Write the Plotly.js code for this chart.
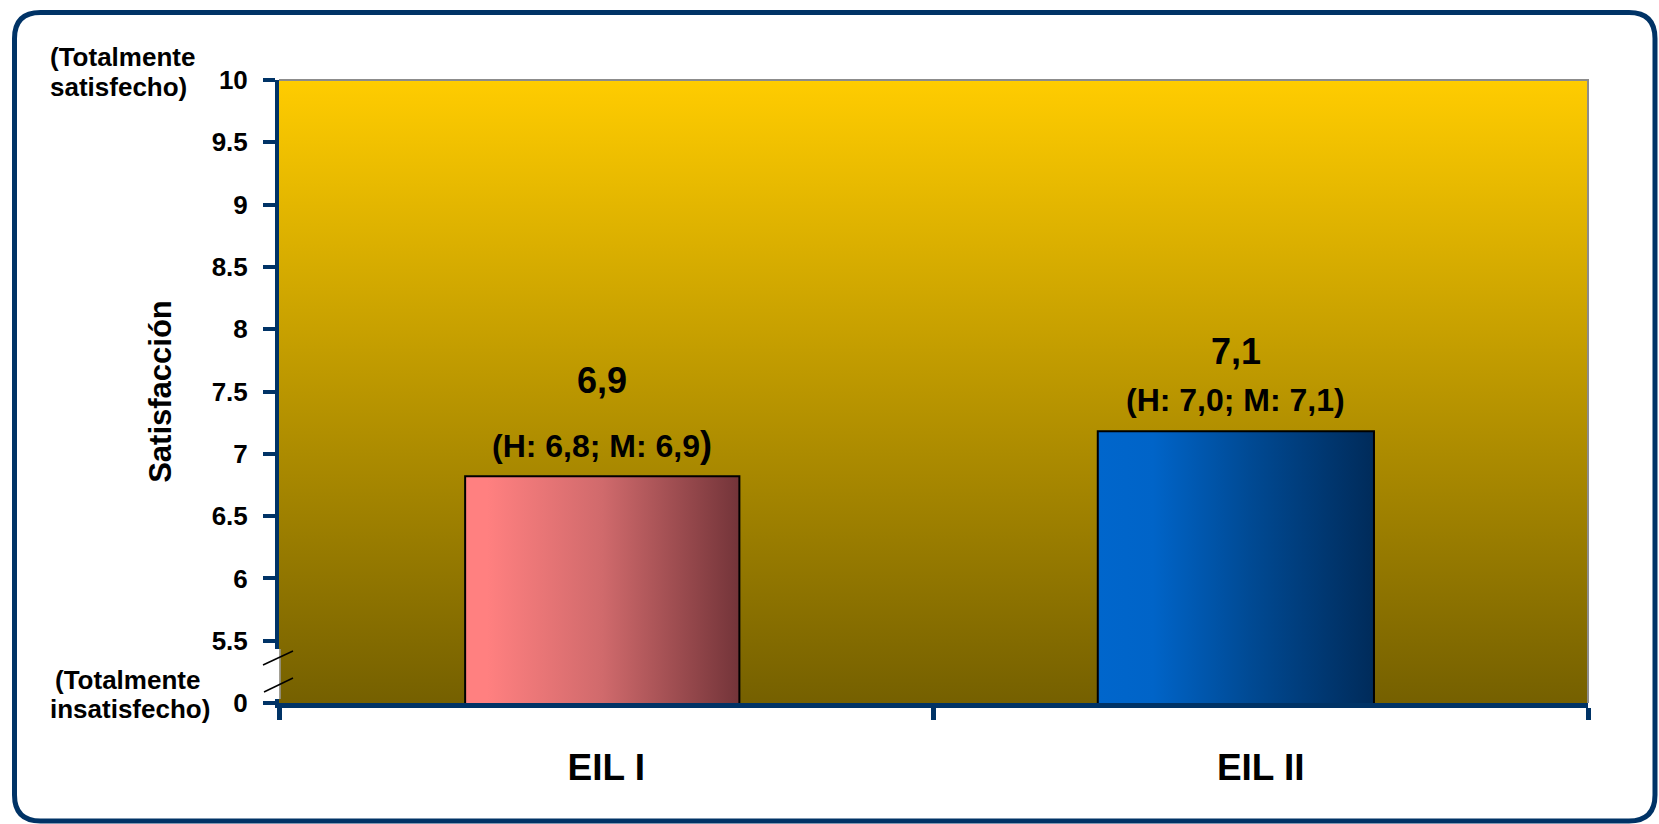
<!DOCTYPE html>
<html>
<head>
<meta charset="utf-8">
<script src="https://cdn.plot.ly/plotly-3.0.1.min.js"></script>
<style>
  html, body { margin: 0; padding: 0; background: #ffffff; }
  #chart { width: 1659px; height: 824px; }
</style>
</head>
<body>
<div id="chart"></div>
<script>
// ---------------- data ----------------
const categories = ['EIL I', 'EIL II'];
const barValues = [6.82, 7.18];              // bar tops as drawn
const meanLabels = ['6,9', '7,1'];
const genderLabels = ['(H: 6,8; M: 6,9<span style="font-size:36px">)</span>', '(H: 7,0; M: 7,1)'];
const yTickVals = [5, 5.5, 6, 6.5, 7, 7.5, 8, 8.5, 9, 9.5, 10];
const yTickText = ['0', '5.5', '6', '6.5', '7', '7.5', '8', '8.5', '9', '9.5', '10'];
const yAxisTitle = 'Satisfacción';
const topNote = ['(Totalmente', 'satisfecho)'];
const bottomNote = ['(Totalmente', 'insatisfecho)'];

// ---------------- geometry / style ----------------
const W = 1659, H = 824;
const L = 279, R = 1588, T = 80, B = 703;
const px = p => (p - L) / (R - L);
const py = p => (B - p) / (B - T);
const NAVY = '#003366';
const FONT = 'Arial, "Liberation Sans", sans-serif';

const barOffsets = [-0.2156, -0.249];
const barWidths = [0.419, 0.422];
const labelXShift = [-4, -25];
const genderYShift = [32, 31];
const meanYShift = [96, 80];

const barGradients = [
  [[0, '#FF8080'], [0.08, '#FF8080'], [0.5, '#D06A6C'], [1, '#733439']],
  [[0, '#0066CC'], [0.2, '#0064C8'], [0.55, '#004A94'], [1, '#002B5A']]
];

const bgSvg = "<svg xmlns='http://www.w3.org/2000/svg' width='100' height='100' preserveAspectRatio='none'>" +
  "<defs><linearGradient id='g' x1='0' y1='0' x2='0' y2='1'>" +
  "<stop offset='0' stop-color='#FFCC00'/><stop offset='1' stop-color='#756000'/>" +
  "</linearGradient></defs><rect width='100' height='100' fill='url(#g)'/></svg>";
const bgUri = 'data:image/svg+xml;charset=utf-8,' + encodeURIComponent(bgSvg);

function roundRectPath(x0, y0, x1, y1, r) {
  const X = v => px(v).toFixed(5), Y = v => py(v).toFixed(5);
  return `M ${X(x0 + r)},${Y(y0)} L ${X(x1 - r)},${Y(y0)} Q ${X(x1)},${Y(y0)} ${X(x1)},${Y(y0 + r)} ` +
         `L ${X(x1)},${Y(y1 - r)} Q ${X(x1)},${Y(y1)} ${X(x1 - r)},${Y(y1)} ` +
         `L ${X(x0 + r)},${Y(y1)} Q ${X(x0)},${Y(y1)} ${X(x0)},${Y(y1 - r)} ` +
         `L ${X(x0)},${Y(y0 + r)} Q ${X(x0)},${Y(y0)} ${X(x0 + r)},${Y(y0)} Z`;
}

const trace = {
  type: 'bar',
  x: categories,
  y: barValues,
  offset: barOffsets,
  width: barWidths,
  marker: { color: ['#FF8080', '#0066CC'], line: { color: '#000000', width: 2 } },
  hoverinfo: 'skip'
};

const annotations = [];
categories.forEach((c, i) => {
  annotations.push({
    x: c, y: barValues[i], xref: 'x', yref: 'y', showarrow: false,
    text: genderLabels[i], xanchor: 'center', yanchor: 'middle',
    xshift: labelXShift[i], yshift: genderYShift[i],
    font: { family: FONT, size: 32, color: '#000000', weight: 700 }
  });
  annotations.push({
    x: c, y: barValues[i], xref: 'x', yref: 'y', showarrow: false,
    text: meanLabels[i], xanchor: 'center', yanchor: 'middle',
    xshift: labelXShift[i], yshift: meanYShift[i],
    font: { family: FONT, size: 36, color: '#000000', weight: 700 }
  });
});
const noteFont = { family: FONT, size: 26, color: '#000000', weight: 700 };
annotations.push({ x: px(48), y: py(57), xref: 'paper', yref: 'paper', showarrow: false, xanchor: 'left', yanchor: 'middle', text: topNote[0], font: noteFont });
annotations.push({ x: px(48), y: py(87), xref: 'paper', yref: 'paper', showarrow: false, xanchor: 'left', yanchor: 'middle', text: topNote[1], font: noteFont });
annotations.push({ x: px(127), y: py(680), xref: 'paper', yref: 'paper', showarrow: false, xanchor: 'center', yanchor: 'middle', text: bottomNote[0], font: noteFont });
annotations.push({ x: px(130), y: py(709), xref: 'paper', yref: 'paper', showarrow: false, xanchor: 'center', yanchor: 'middle', text: bottomNote[1], font: noteFont });

const shapes = [
  // page border
  { type: 'path', xref: 'paper', yref: 'paper', path: roundRectPath(14.5, 12.5, 1655, 821, 26),
    line: { color: NAVY, width: 5 }, fillcolor: 'rgba(0,0,0,0)', layer: 'above' },
  // plot frame top/right
  { type: 'path', xref: 'paper', yref: 'paper', path: 'M 0,1 L 1,1 L 1,0',
    line: { color: '#8c8c8c', width: 2 }, layer: 'above' },
  // axis break: gap in axis line
  { type: 'line', xref: 'paper', yref: 'paper', x0: px(277), x1: px(277), y0: py(649), y1: py(699),
    line: { color: '#ffffff', width: 5 }, layer: 'above' },
  { type: 'line', xref: 'paper', yref: 'paper', x0: px(280), x1: px(280), y0: py(649), y1: py(699),
    line: { color: '#9a9a9a', width: 1.5 }, layer: 'above' },
  // break marks
  { type: 'line', xref: 'paper', yref: 'paper', x0: px(263), y0: py(665), x1: px(293), y1: py(651),
    line: { color: '#000000', width: 1.5 }, layer: 'above' },
  { type: 'line', xref: 'paper', yref: 'paper', x0: px(264), y0: py(692), x1: px(293), y1: py(678),
    line: { color: '#000000', width: 1.5 }, layer: 'above' }
];

const layout = {
  width: W, height: H,
  margin: { l: L, r: W - R, t: T, b: H - B, pad: 0 },
  paper_bgcolor: '#ffffff',
  plot_bgcolor: 'rgba(0,0,0,0)',
  showlegend: false,
  font: { family: FONT, color: '#000000' },
  xaxis: {
    type: 'category', range: [-0.5, 1.5], fixedrange: true,
    showline: true, linecolor: NAVY, linewidth: 5,
    ticks: 'outside', tickson: 'boundaries', ticklen: 12, tickwidth: 5, tickcolor: NAVY,
    showgrid: false, zeroline: false,
    tickfont: { family: FONT, size: 37, color: '#000000', weight: 700 },
    ticklabelstandoff: 28
  },
  yaxis: {
    range: [5, 10], fixedrange: true,
    tickmode: 'array', tickvals: yTickVals, ticktext: yTickText,
    showline: true, linecolor: NAVY, linewidth: 4,
    ticks: 'outside', ticklen: 12, tickwidth: 4, tickcolor: NAVY,
    showgrid: false, zeroline: false,
    tickfont: { family: FONT, size: 26, color: '#000000', weight: 700 },
    ticklabelstandoff: 10,
    title: { text: yAxisTitle, font: { family: FONT, size: 31, color: '#000000', weight: 700 }, standoff: 32 }
  },
  images: [{ source: bgUri, xref: 'paper', yref: 'paper', x: 0, y: 1, sizex: 1, sizey: 1,
             xanchor: 'left', yanchor: 'top', sizing: 'stretch', layer: 'below' }],
  annotations: annotations,
  shapes: shapes
};

const gd = document.getElementById('chart');
Plotly.newPlot(gd, [trace], layout, { staticPlot: true, displayModeBar: false }).then(() => {
  const NS = 'http://www.w3.org/2000/svg';
  const svg = gd.querySelector('svg.main-svg');
  let defs = svg.querySelector('defs');
  if (!defs) { defs = document.createElementNS(NS, 'defs'); svg.insertBefore(defs, svg.firstChild); }
  barGradients.forEach((stops, i) => {
    const lg = document.createElementNS(NS, 'linearGradient');
    lg.setAttribute('id', 'barGrad' + i);
    lg.setAttribute('x1', '0'); lg.setAttribute('y1', '0');
    lg.setAttribute('x2', '1'); lg.setAttribute('y2', '0');
    stops.forEach(([o, c]) => {
      const s = document.createElementNS(NS, 'stop');
      s.setAttribute('offset', o);
      s.setAttribute('stop-color', c);
      lg.appendChild(s);
    });
    defs.appendChild(lg);
  });
  gd.querySelectorAll('.trace.bars .point path').forEach((p, i) => {
    p.style.fill = 'url(#barGrad' + i + ')';
    p.style.fillOpacity = 1;
  });
});
</script>
</body>
</html>
